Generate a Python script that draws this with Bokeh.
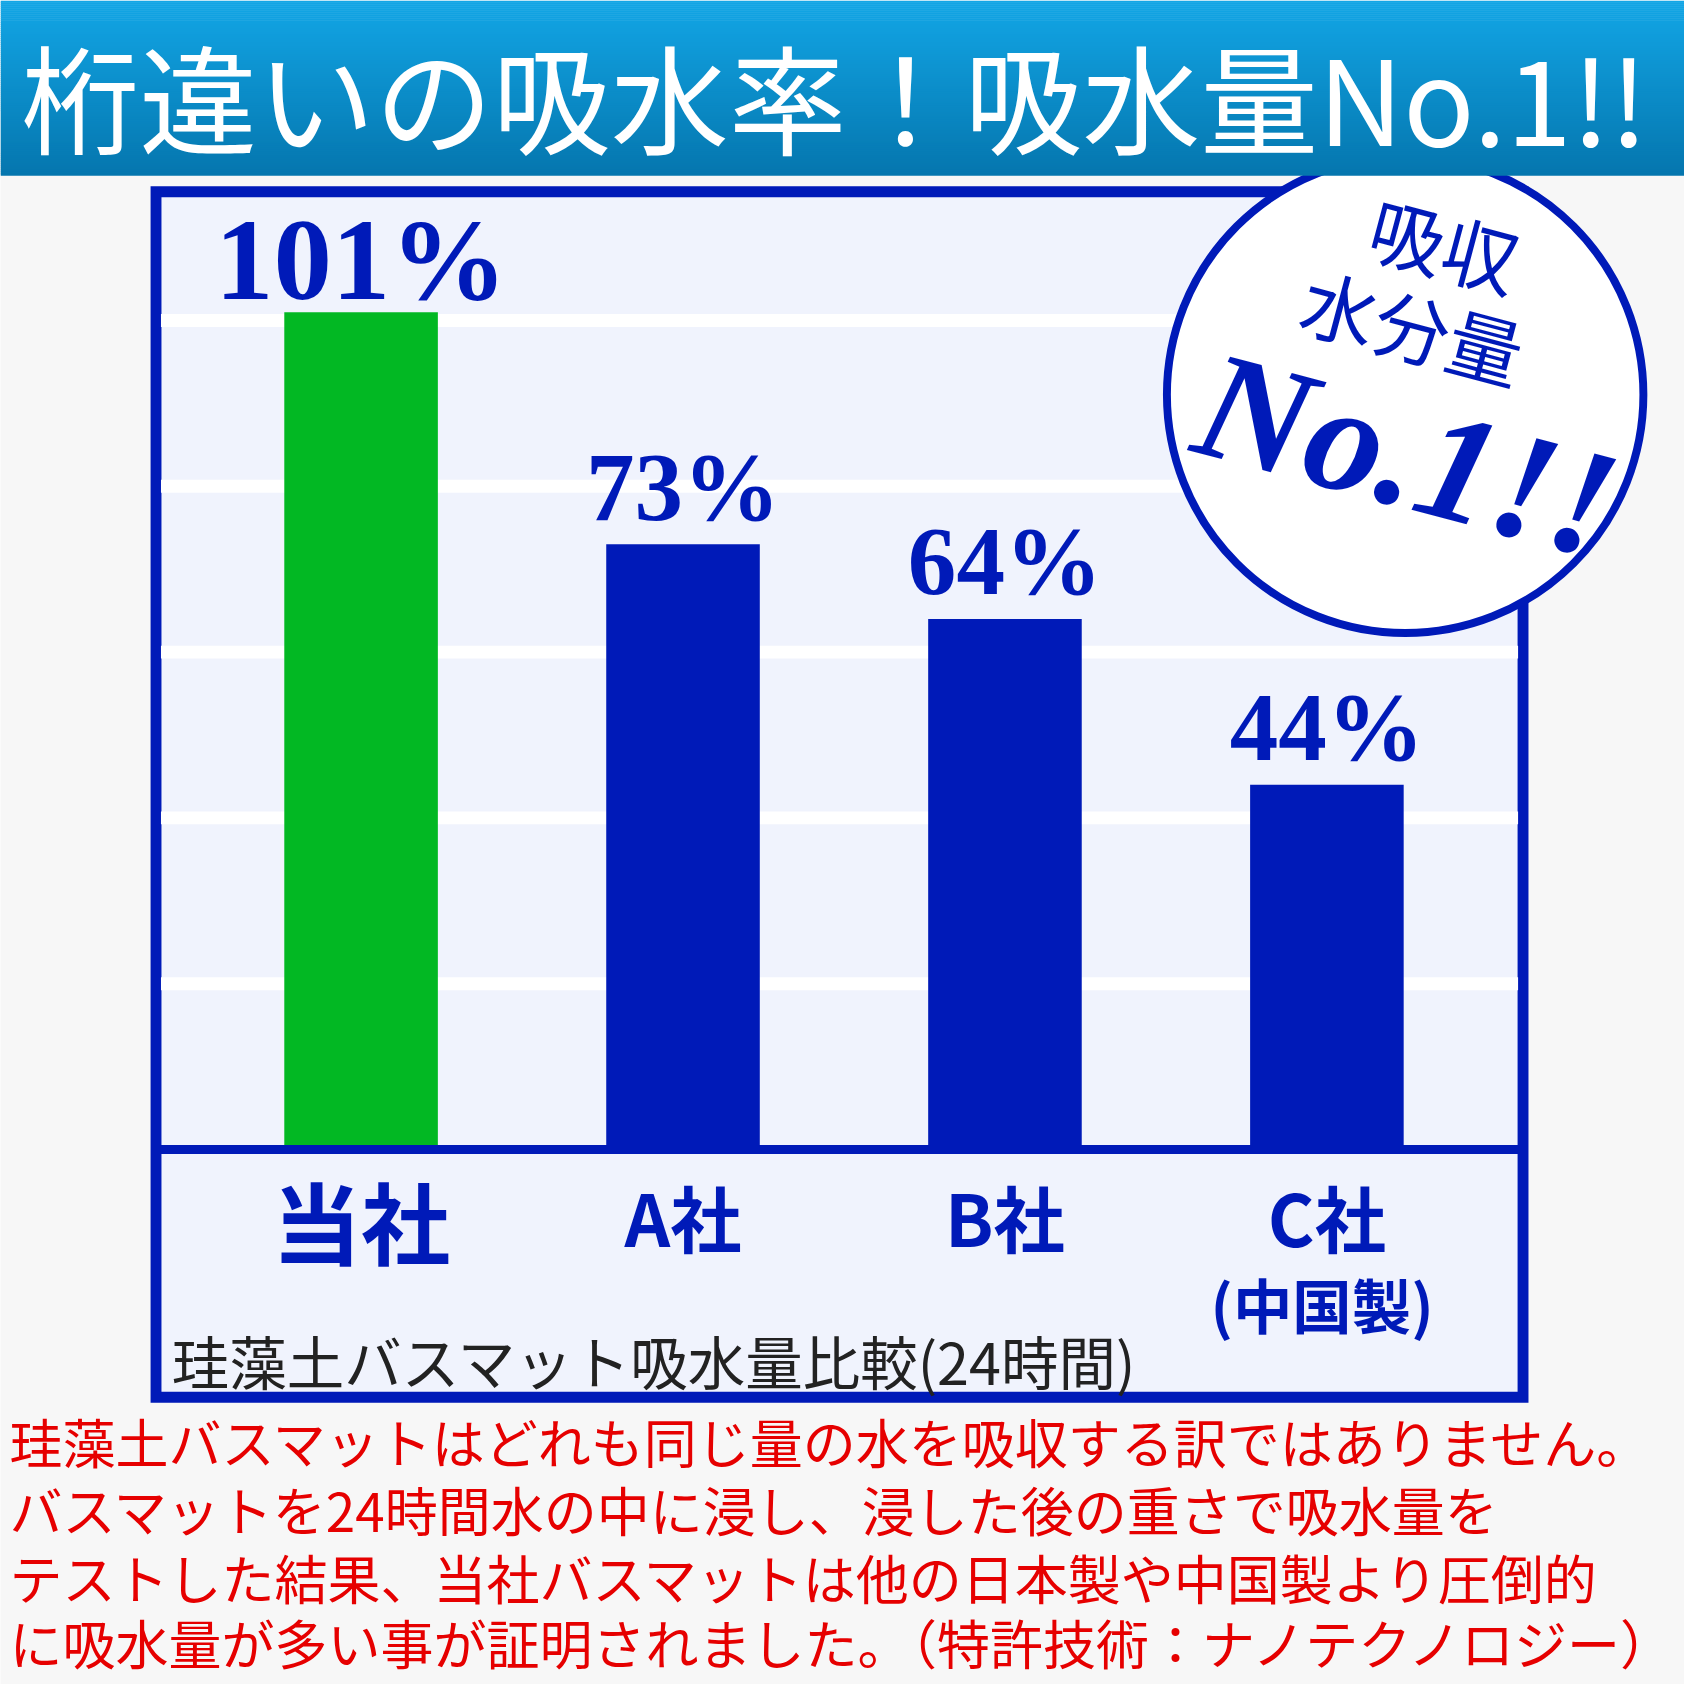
import numpy as np
from bokeh.plotting import figure
from bokeh.models import Range1d
from bokeh.core.properties import value
from bokeh.embed import file_html
from bokeh.resources import INLINE

# ---------------- data ----------------
categories = ["当社", "A社", "B社", "C社"]
sub_labels = ["", "", "", "(中国製)"]
absorption = [101, 73, 64, 44]
grid_ticks = [20, 40, 60, 80, 100]
title_text = "桁違いの吸水率！吸水量No.1!!"
chart_note = "珪藻土バスマット吸水量比較(24時間)"
badge_top = ["吸収", "水分量"]
badge_main = "No.1!!"
body_lines = [
    "珪藻土バスマットはどれも同じ量の水を吸収する訳ではありません。",
    "バスマットを24時間水の中に浸し、浸した後の重さで吸水量を",
    "テストした結果、当社バスマットは他の日本製や中国製より圧倒的",
    "に吸水量が多い事が証明されました。（特許技術：ナノテクノロジー）",
]

# ---------------- styles ----------------
BLUE = "#001AB8"
GREEN = "#02B823"
BOX_FILL = "#F0F3FD"
BG = "#F7F7F7"
RED = "#E60000"
JP = "Noto Sans CJK JP"
SERIF = "Liberation Serif"

W = H = 1684           # canvas size (fits the window with its 8px margin)
REF = 1700.0           # layout designed in a 1700px frame
K = W / REF
SX = 325.0             # layout px per category step
X0 = 364.0             # layout x of first category
SY = 8.37              # layout px per percent
Y0 = 1160.0            # layout y of 0 %


def X(px):
    return (px - X0) / SX


def Y(py):
    return (Y0 - py) / SY


def fs(v):
    return "%.1fpx" % (v * K)


p = figure(width=W, height=H,
           x_range=Range1d(X(0), X(REF)),
           y_range=Range1d(Y(REF), Y(0)),
           output_backend="svg", toolbar_location=None,
           min_border=0, x_axis_location=None, y_axis_location=None,
           background_fill_color=BG, border_fill_color=BG,
           outline_line_color=None)
p.grid.visible = False


def txt(x, y, s, font, size, color, style="normal", align="center",
        baseline="middle", angle=0.0):
    p.text(x=[x], y=[y], text=[s], text_font=value(font),
           text_font_style=style, text_font_size=fs(size), text_color=color,
           text_align=align, text_baseline=baseline, angle=angle)


# body text (no overlaps)
line_y = [1454, 1523, 1591, 1657]
for s, ly in zip(body_lines, line_y):
    txt(X(9), Y(ly), s, JP, 53.5, RED, align="left")

# chart box
p.quad(left=[X(157)], right=[X(1537)], top=[Y(193)], bottom=[Y(1410)],
       fill_color=BOX_FILL, line_color=BLUE, line_width=11 * K,
       line_join="miter")

# grid lines (white bands)
p.segment(x0=[X(162)] * len(grid_ticks), x1=[X(1532)] * len(grid_ticks),
          y0=grid_ticks, y1=grid_ticks, line_color="white",
          line_width=13 * K, line_cap="butt")

# bars
xs = list(range(len(categories)))
bar_colors = [GREEN] + [BLUE] * (len(categories) - 1)
p.vbar(x=xs, top=absorption, bottom=0, width=0.477, fill_color=bar_colors,
       line_color=None)

# baseline
p.segment(x0=[X(162)], x1=[X(1532)], y0=[0], y1=[0], line_color=BLUE,
          line_width=9 * K, line_cap="butt")

# value labels (leader larger)
for i, v in enumerate(absorption):
    lead = i == 0
    txt(xs[i], v + (53 if lead else 58) / SY, f"{v}%", SERIF,
        118 if lead else 98, BLUE, style="bold")

# category labels
for i, c in enumerate(categories):
    lead = i == 0
    txt(xs[i], Y(1231 if lead else 1227), c, JP, 90 if lead else 72,
        BLUE, style="bold")
    if sub_labels[i]:
        txt(xs[i] - 0.015, Y(1315), sub_labels[i], JP, 60, BLUE,
            style="bold")

# chart note
txt(X(173), Y(1372), chart_note, JP, 58, "#222222", align="left")

# badge circle
p.scatter(x=[X(1418)], y=[Y(398)], marker="circle", size=481 * K,
          fill_color="white", line_color=BLUE, line_width=8 * K)
ang = -0.26
txt(X(1458), Y(245), badge_top[0], JP, 76, BLUE, angle=ang)
txt(X(1426), Y(328), badge_top[1], JP, 76, BLUE, angle=ang)
txt(X(1420), Y(458), badge_main, SERIF, 156, BLUE, style="bold italic",
    angle=ang)

# header gradient
top_c = np.array([0x12, 0xA6, 0xE6], dtype=float)
bot_c = np.array([0x05, 0x76, 0xAE], dtype=float)
HB = 177.0
n = 88
edges = np.linspace(0, HB, n + 1)
lefts, rights, tops, bots, cols = [], [], [], [], []
for i in range(n):
    ymid = 0.5 * (edges[i] + edges[i + 1])
    t = ymid / HB
    c = top_c * (1 - t) + bot_c * t
    cols.append("#%02x%02x%02x" % tuple(int(round(v)) for v in c))
    lefts.append(X(0))
    rights.append(X(REF))
    tops.append(Y(max(edges[i] - 0.3, 0)))
    bots.append(Y(min(edges[i + 1] + 0.3, HB)))
p.quad(left=lefts, right=rights, top=tops, bottom=bots, fill_color=cols,
       line_color=None)

# header title
txt(X(842), Y(95), title_text, JP, 119, "white")

open("out.html", "w").write(file_html(p, INLINE))
